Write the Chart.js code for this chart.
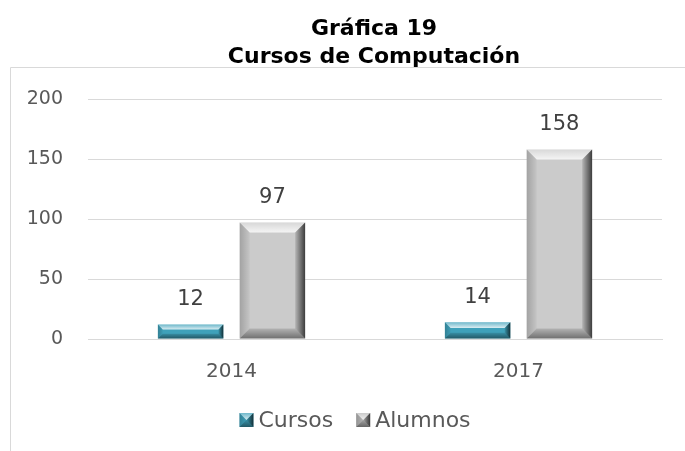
<!DOCTYPE html>
<html>
<head>
<meta charset="utf-8">
<script src="https://cdn.jsdelivr.net/npm/chart.js@4"></script>
<style>
  html, body { margin: 0; padding: 0; background: #fff; }
</style>
</head>
<body>
<canvas id="chart" width="685" height="451"></canvas>
<script>
const years = ['2014', '2017'];
const cursos = [12, 14];
const alumnos = [97, 158];
const yTicks = [0, 50, 100, 150, 200];
const titleLines = ['Gráfica 19', 'Cursos de Computación'];

const fontFamily = '"DejaVu Sans", sans-serif';

// frame + title (the title is centred on the whole frame, which runs off the right edge)
const framePlugin = {
    id: 'frame',
    beforeDraw(chart) {
        const ctx = chart.ctx;
        ctx.save();
        ctx.strokeStyle = '#d9d9d9';
        ctx.lineWidth = 1;
        ctx.beginPath();
        ctx.moveTo(10.5, chart.height + 1);
        ctx.lineTo(10.5, 67.5);
        ctx.lineTo(chart.width + 1, 67.5);
        ctx.stroke();

        ctx.fillStyle = '#000';
        ctx.font = 'bold 22px ' + fontFamily;
        ctx.textAlign = 'center';
        ctx.textBaseline = 'alphabetic';
        titleLines.forEach((line, i) => ctx.fillText(line, 374, 35 + i * 28));
        ctx.restore();
    }
};

const drawBevel = (ctx, l, t, r, b, s) => {
    const poly = (pts, fill) => {
        ctx.beginPath();
        ctx.moveTo(pts[0][0], pts[0][1]);
        for (let k = 1; k < pts.length; k++) ctx.lineTo(pts[k][0], pts[k][1]);
        ctx.closePath();
        ctx.fillStyle = fill;
        ctx.fill();
    };
    const grad = (x0, y0, x1, y1, c0, c1) => {
        const g = ctx.createLinearGradient(x0, y0, x1, y1);
        g.addColorStop(0, c0);
        g.addColorStop(1, c1);
        return g;
    };
    poly([[l, t], [r, t], [r - s, t + s], [l + s, t + s]],
        grad(0, t, 0, t + s, 'rgba(255,255,255,0.25)', 'rgba(255,255,255,0.8)'));
    poly([[l, t], [l + s, t + s], [l + s, b - s], [l, b]],
        grad(l, 0, l + s, 0, 'rgba(0,0,0,0.2)', 'rgba(0,0,0,0.03)'));
    poly([[r, t], [r, b], [r - s, b - s], [r - s, t + s]],
        grad(r - s, 0, r, 0, 'rgba(0,0,0,0.1)', 'rgba(0,0,0,0.7)'));
    poly([[l, b], [l + s, b - s], [r - s, b - s], [r, b]],
        grad(0, b - s, 0, b, 'rgba(0,0,0,0.12)', 'rgba(0,0,0,0.45)'));
};

// bevelled look for the bars + value labels above them
const bevelPlugin = {
    id: 'bevel',
    afterDatasetsDraw(chart) {
        const ctx = chart.ctx;
        chart.data.datasets.forEach((ds, di) => {
            const meta = chart.getDatasetMeta(di);
            meta.data.forEach((bar, i) => {
                const l = bar.x - bar.width / 2, r = bar.x + bar.width / 2;
                const t = bar.y, b = bar.base;
                ctx.save();
                drawBevel(ctx, l, t, r, b, Math.min(10, (b - t) * 0.35));
                ctx.fillStyle = '#404040';
                ctx.font = '21px ' + fontFamily;
                ctx.textAlign = 'center';
                ctx.textBaseline = 'middle';
                ctx.fillText(ds.data[i], bar.x, t - 25);
                ctx.restore();
            });
        });
    }
};

// legend drawn by hand so the spacing matches (icon close to its text)
const legendPlugin = {
    id: 'bevelLegend',
    afterDraw(chart) {
        const ctx = chart.ctx;
        const ds = chart.data.datasets;
        ctx.save();
        ctx.font = '22px ' + fontFamily;
        const box = 14, gapText = 5, gapItem = 23;
        const widths = ds.map(d => ctx.measureText(d.label).width);
        const total = widths.reduce((a, w) => a + box + gapText + w, 0) + gapItem * (ds.length - 1);
        let x = 355 - total / 2;
        const cy = 420;
        ds.forEach((d, i) => {
            ctx.fillStyle = d.legendColor;
            ctx.fillRect(x, cy - box / 2, box, box);
            drawBevel(ctx, x, cy - box / 2, x + box, cy + box / 2, box / 2);
            ctx.fillStyle = '#595959';
            ctx.textAlign = 'left';
            ctx.textBaseline = 'middle';
            ctx.fillText(d.label, x + box + gapText, cy + 1);
            x += box + gapText + widths[i] + gapItem;
        });
        ctx.restore();
    }
};

new Chart(document.getElementById('chart'), {
    type: 'bar',
    data: {
        labels: years,
        datasets: [{
            label: 'Cursos',
            data: cursos,
            backgroundColor: '#3fa1ba',
            legendColor: '#3fa1ba'
        }, {
            label: 'Alumnos',
            data: alumnos,
            backgroundColor: '#cbcbcb',
            legendColor: '#b8b8b8'
        }]
    },
    options: {
        responsive: false,
        animation: false,
        categoryPercentage: 0.57,
        barPercentage: 0.8,
        layout: { padding: { left: 10, right: 23, top: 99, bottom: 67 } },
        plugins: {
            title: { display: false },
            legend: { display: false },
            tooltip: { enabled: false }
        },
        scales: {
            x: {
                grid: { display: false, drawTicks: false },
                border: { color: '#d9d9d9' },
                ticks: { color: '#595959', font: { family: fontFamily, size: 20 }, padding: 21 },
                afterFit: (scale) => { scale.height = 45; }
            },
            y: {
                min: 0,
                max: 200,
                afterBuildTicks: (scale) => { scale.ticks = yTicks.map(v => ({ value: v })); },
                afterFit: (scale) => { scale.width = 78; },
                grid: { color: '#d9d9d9', drawTicks: false },
                border: { display: false },
                ticks: { color: '#595959', font: { family: fontFamily, size: 19 }, padding: 25 }
            }
        }
    },
    plugins: [framePlugin, bevelPlugin, legendPlugin]
});
</script>
</body>
</html>
